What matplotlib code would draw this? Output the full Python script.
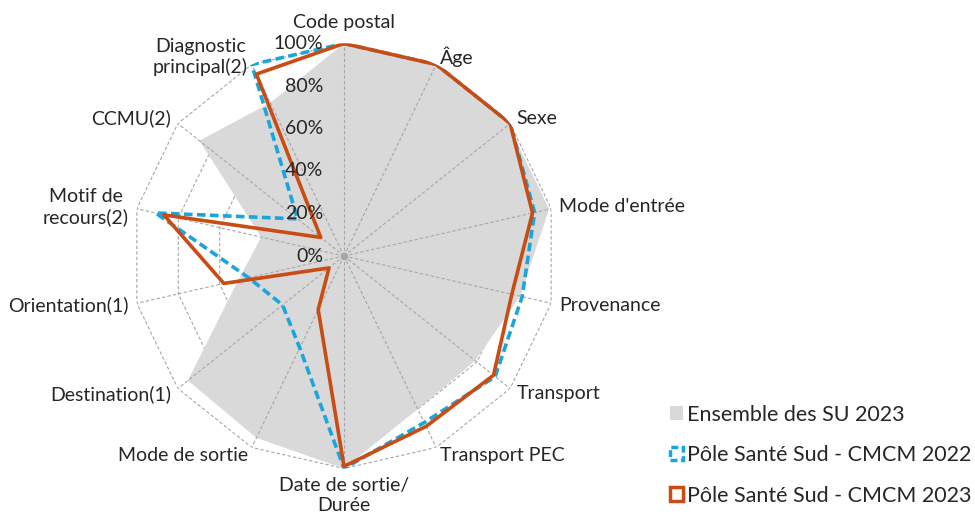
import numpy as np
import matplotlib
matplotlib.use("Agg")
import matplotlib.pyplot as plt
import matplotlib.patches as mpl_patches

plt.rcParams["font.family"] = ["Lato", "DejaVu Sans"]

categories = ["Code postal", "Âge", "Sexe", "Mode d'entrée", "Provenance", "Transport",
              "Transport PEC", "Date de sortie/\nDurée", "Mode de sortie", "Destination(1)",
              "Orientation(1)", "Motif de\nrecours(2)", "CCMU(2)", "Diagnostic\nprincipal(2)"]
ensemble_2023 = [100, 99, 99, 99, 85, 79, 80, 100, 95, 94, 51, 40, 87, 80]
pss_2022 = [100, 100, 100, 92, 86, 91, 87, 100, 48, 37, 46, 91, 28, 100]
pss_2023 = [100, 100, 100, 91, 81, 90, 89, 99, 28, 9, 58, 87, 14, 95]
levels = [0, 20, 40, 60, 80, 100]
series_names = ["Ensemble des SU 2023", "Pôle Santé Sud - CMCM 2022", "Pôle Santé Sud - CMCM 2023"]

c_grey = "#D9D9D9"
c_grid = "#A6A6A6"
c_blue = "#1AA6DC"
c_orange = "#C94C14"
c_text = "#262626"

n = len(categories)
angles = np.arange(n) * 2 * np.pi / n
ang_c = np.append(angles, angles[0])

def closed(v):
    return np.append(v, v[0])

fig = plt.figure(figsize=(9.75, 5.16), dpi=100)
ax = fig.add_axes([131.5 / 975, 47.5 / 516, 425 / 975, 425 / 516], projection="polar")
ax.set_theta_offset(np.pi / 2)
ax.set_theta_direction(-1)
ax.set_ylim(0, 100)
ax.grid(False)
ax.spines["polar"].set_visible(False)
ax.set_xticks([])
ax.set_yticks([])
ax.patch.set_alpha(0)

# polygon grid (under the fill), spokes on top of it
for lv in levels[1:]:
    ax.plot(ang_c, [lv] * (n + 1), color=c_grid, lw=0.8, ls=(0, (3, 2)), zorder=0.5)
ax.fill(ang_c, closed(ensemble_2023), color=c_grey, lw=0, zorder=1)
for a in angles:
    ax.plot([a, a], [0, 100], color=c_grid, lw=0.8, ls=(0, (3, 2)), zorder=2)
ax.plot([0], [0], "o", color=c_grid, ms=4.5, zorder=2)

ax.plot(ang_c, closed(pss_2022), color=c_blue, lw=2.6, dashes=(2.4, 1.2), zorder=3)
ax.plot(ang_c, closed(pss_2023), color=c_orange, lw=2.6, zorder=4)

# radial labels
for lv in levels:
    ax.annotate(f"{lv}%", (0, lv), xytext=(-15, 0), textcoords="offset points",
                ha="right", va="center", fontsize=14, color=c_text, zorder=5)

# category labels
for a, lab in zip(angles, categories):
    s = np.sin(a)
    if abs(s) < 1e-6:
        ha = "center"
        va = "bottom" if np.cos(a) > 0 else "top"
        r = 106 if np.cos(a) > 0 else 104
    else:
        ha = "left" if s > 0 else "right"
        va = "center"
        r = 104
    ax.text(a, r, lab, ha=ha, va=va, fontsize=14, color=c_text,
            multialignment="center", zorder=5)

handles = [
    mpl_patches.Rectangle((0, 0), 1, 1, fc=c_grey, ec="none"),
    mpl_patches.Rectangle((0, 0), 1, 1, fc="white", ec=c_blue, lw=2.5, ls=(0, (2, 1))),
    mpl_patches.Rectangle((0, 0), 1, 1, fc="white", ec=c_orange, lw=2.5),
]
fig.legend(handles, series_names, loc="upper left", bbox_to_anchor=(659 / 975, 1 - 394 / 516),
           frameon=False, fontsize=15.5, handlelength=0.6, handleheight=0.6,
           handletextpad=0.2, labelspacing=0.95, borderpad=0, labelcolor=c_text)

fig.savefig("out.png", dpi=100)
